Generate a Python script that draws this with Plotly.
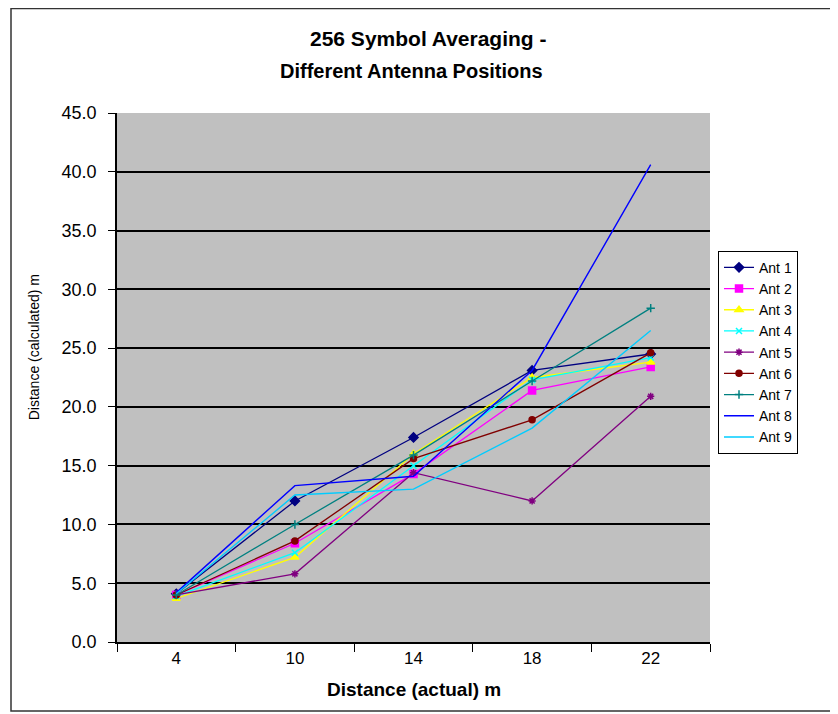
import plotly.graph_objects as go

categories = ["4", "10", "14", "18", "22"]

ant1 = [4.1, 12.0, 17.4, 23.1, 24.5]
ant2 = [4.0, 8.4, 14.3, 21.4, 23.4]
ant3 = [3.7, 7.2, 16.0, 22.5, 23.8]
ant4 = [3.9, 7.6, 15.0, 22.3, 24.2]
ant5 = [4.0, 5.8, 14.4, 12.0, 20.9]
ant6 = [4.0, 8.6, 15.6, 18.9, 24.6]
ant7 = [4.0, 10.0, 15.9, 22.2, 28.4]
ant8 = [4.2, 13.3, 14.1, 23.1, 40.6]
ant9 = [4.1, 12.5, 13.0, 18.2, 26.5]

series_names = ["Ant 1", "Ant 2", "Ant 3", "Ant 4", "Ant 5", "Ant 6", "Ant 7", "Ant 8", "Ant 9"]
series_values = [ant1, ant2, ant3, ant4, ant5, ant6, ant7, ant8, ant9]
series_colors = ["#000080", "#FF00FF", "#FFFF00", "#00FFFF", "#800080",
                 "#800000", "#008080", "#0000FF", "#00CCFF"]
series_symbols = ["diamond", "square", "triangle-up", "x-thin-open", "asterisk-open",
                  "circle", "cross-thin-open", None, None]
series_sizes = [7, 7, 7, 6, 6, 6, 6, 0, 0]

y_ticks = [0, 5, 10, 15, 20, 25, 30, 35, 40, 45]

FONT = "Liberation Sans, Arial, sans-serif"

fig = go.Figure()
for name, vals, col, sym, sz in zip(series_names, series_values, series_colors,
                                    series_symbols, series_sizes):
    if sym is None:
        fig.add_trace(go.Scatter(x=categories, y=vals, name=name, mode="lines",
                                 line=dict(color=col, width=1.4)))
    else:
        fig.add_trace(go.Scatter(
            x=categories, y=vals, name=name, mode="lines+markers",
            line=dict(color=col, width=1.3),
            marker=dict(symbol=sym, size=sz, color=col,
                        line=dict(color=col, width=1.5))))

# the page body has an 8px margin, so target window pixels are shifted by 8
OFF = 8
W, H = 838 - OFF, 714 - OFF
L, R, T, B = 117 - OFF, 710 - OFF, 112.5 - OFF, 642 - OFF
def px(x):
    return (x - OFF - L) / (R - L)
def py(y):
    return (B - (y - OFF)) / (B - T)

fig.update_layout(
    width=W, height=H,
    margin=dict(l=L, r=W - R, t=T, b=H - B, pad=0, autoexpand=False),
    paper_bgcolor="white",
    plot_bgcolor="#C0C0C0",
    font=dict(family=FONT, size=14, color="black"),
    showlegend=True,
    legend=dict(x=px(718), y=py(352), xanchor="left", yanchor="middle",
                bgcolor="white", bordercolor="black", borderwidth=1,
                font=dict(family=FONT, size=14, color="black"),
                tracegroupgap=0, itemwidth=30),
    xaxis=dict(type="category", categoryorder="array", categoryarray=categories,
               range=[-0.5, 4.5], showgrid=False, showline=True, linecolor="black",
               linewidth=1.5, ticks="outside", tickson="boundaries", ticklen=8,
               tickcolor="black", tickwidth=1.2, zeroline=False,
               tickfont=dict(family=FONT, size=17)),
    yaxis=dict(range=[0, 45], tickvals=y_ticks, tickformat=".1f", showgrid=True,
               gridcolor="black", gridwidth=1.8, showline=True, linecolor="black",
               linewidth=1.5, ticks="outside", ticklen=7, tickcolor="black",
               tickwidth=1.2, zeroline=False, ticklabelstandoff=8,
               tickfont=dict(family=FONT, size=18)),
    shapes=[dict(type="rect", xref="paper", yref="paper",
                 x0=px(11), x1=px(837), y0=py(711), y1=py(8),
                 line=dict(color="#333333", width=1.5), fillcolor="rgba(0,0,0,0)",
                 layer="below")],
    annotations=[
        dict(text="<b>256 Symbol Averaging -</b>", xref="paper", yref="paper",
             x=px(428), y=py(38), showarrow=False, xanchor="center", yanchor="middle",
             font=dict(family=FONT, size=21)),
        dict(text="<b>Different Antenna Positions</b>", xref="paper", yref="paper",
             x=px(411), y=py(70), showarrow=False, xanchor="center", yanchor="middle",
             font=dict(family=FONT, size=20)),
        dict(text="<b>Distance (actual) m</b>", xref="paper", yref="paper",
             x=px(414), y=py(690), showarrow=False, xanchor="center", yanchor="middle",
             font=dict(family=FONT, size=19)),
        dict(text="Distance (calculated) m", xref="paper", yref="paper",
             x=px(34), y=py(347), showarrow=False, xanchor="center", yanchor="middle",
             textangle=-90, font=dict(family=FONT, size=14)),
    ],
)

fig.write_html("out.html")
